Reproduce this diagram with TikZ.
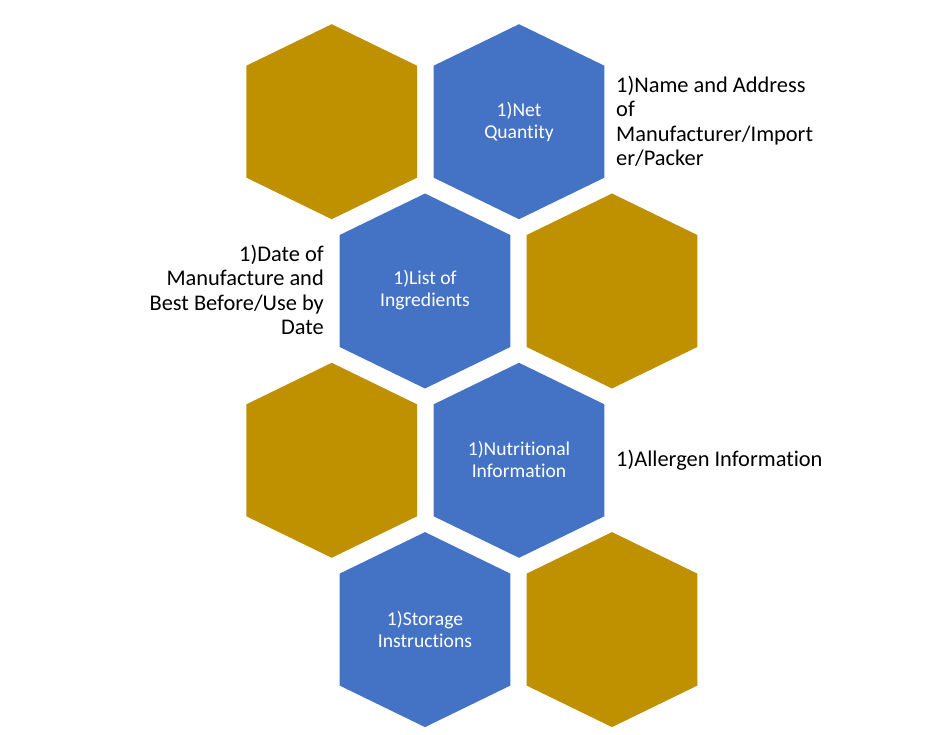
\documentclass[tikz,border=0pt]{standalone}
\usepackage{fontspec}
\setmainfont{Carlito}[Ligatures=NoCommon]
\definecolor{hexgold}{HTML}{BF9000}
\definecolor{hexblue}{HTML}{4472C4}
\tikzset{
  hexshape/.style={fill=#1},
  intext/.style={text=white,align=center,inner sep=0pt,font=\fontsize{19.6}{22}\selectfont},
  outtext/.style={text=black,inner sep=0pt,font=\fontsize{22.4}{24.5}\selectfont},
}
\newcommand\hexat[3]{%
  \fill[hexshape=#3,shift={(#1,#2)}] (0,-97.5) -- (85.3,-56) -- (85.3,56) -- (0,97.5) -- (-85.3,56) -- (-85.3,-56) -- cycle;}
\begin{document}
\begin{tikzpicture}[x=1pt,y=-1pt]
\useasboundingbox[fill=white] (0,0) rectangle (939,735);
% row 1
\hexat{331.7}{121.7}{hexgold}
\hexat{519}{121.7}{hexblue}
% row 2
\hexat{425}{291}{hexblue}
\hexat{612}{291}{hexgold}
% row 3
\hexat{331.7}{460.3}{hexgold}
\hexat{519}{460.3}{hexblue}
% row 4
\hexat{425}{629.6}{hexblue}
\hexat{612}{629.6}{hexgold}
% inner texts
\node[intext] (net) at (519,121.7) {1)Net\\Quantity};
\node[intext] (ing) at (425,290) {1)List of\\Ingredients};
\node[intext] (nut) at (519,459.5) {1)Nutritional\\Information};
\node[intext] (sto) at (425,629) {1)Storage\\Instructions};
% outside texts
\node[outtext,anchor=west,align=left] (name) at (616,121.5) {1)Name and Address\\of\\Manufacturer/Import\\er/Packer};
\node[outtext,anchor=east,align=right] (date) at (324,290) {1)Date of\\Manufacture and\\Best Before/Use by\\Date};
\node[outtext,anchor=west,align=left] (all) at (616,460) {1)Allergen Information};
\end{tikzpicture}
\end{document}
